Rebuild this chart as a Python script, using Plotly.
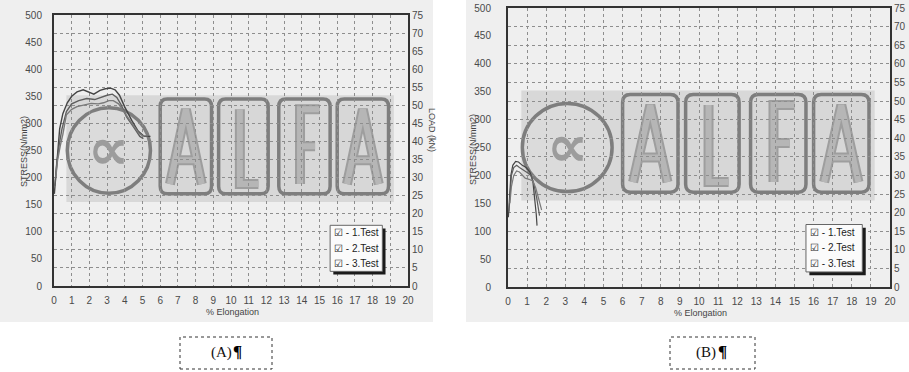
import plotly.graph_objects as go

# ---------------- data ----------------
x_ticks = list(range(0, 21))
stress_ticks = list(range(0, 501, 50))
load_ticks = list(range(0, 76, 5))
test_names = ["1.Test", "2.Test", "3.Test"]

# Chart (A)
a1_x = [0.02, 0.12, 0.22, 0.32, 0.5, 0.75, 1.0, 1.3, 1.65, 2.0, 2.25, 2.6, 2.9, 3.2, 3.45, 3.7, 4.0, 4.4, 4.75, 5.1, 5.45]
a1_y = [170, 215, 262, 290, 318, 338, 350, 358, 362, 358, 354, 361, 364, 365, 362, 352, 330, 305, 286, 276, 276]
a2_x = [0.05, 0.15, 0.3, 0.45, 0.7, 1.0, 1.4, 1.85, 2.3, 2.7, 3.0, 3.3, 3.55, 3.8, 4.1, 4.5, 4.85, 5.05]
a2_y = [185, 225, 262, 290, 322, 336, 342, 346, 344, 349, 352, 354, 348, 334, 312, 293, 276, 272]
a3_x = [0.1, 0.2, 0.35, 0.5, 0.7, 1.0, 1.3, 1.7, 2.1, 2.5, 2.8, 3.1, 3.35, 3.65, 4.0, 4.4, 4.8, 5.0, 5.3]
a3_y = [200, 232, 258, 280, 316, 326, 331, 334, 337, 336, 338, 342, 342, 336, 318, 300, 282, 277, 277]

# Chart (B)
b1_x = [0.02, 0.08, 0.15, 0.25, 0.4, 0.55, 0.75, 0.95, 1.15, 1.3, 1.4, 1.48, 1.52]
b1_y = [125, 165, 200, 218, 225, 224, 218, 214, 206, 190, 160, 130, 110]
b2_x = [0.05, 0.1, 0.18, 0.3, 0.45, 0.6, 0.8, 1.0, 1.2, 1.35, 1.5, 1.6, 1.65]
b2_y = [135, 170, 200, 214, 218, 214, 210, 205, 200, 185, 160, 140, 128]
b3_x = [0.1, 0.18, 0.3, 0.45, 0.6, 0.75, 0.9, 1.1, 1.3, 1.45, 1.6, 1.7, 1.76]
b3_y = [150, 180, 200, 208, 206, 200, 195, 193, 190, 178, 160, 145, 138]

# ---------------- helpers ----------------
W, H = 909, 372
def fx(p): return p / W
def fy(p): return 1 - p / H

LINE_COLORS = ["#454545", "#5e5e5e", "#7a7a7a"]
TICKFONT = dict(family="Liberation Sans, Arial", size=10, color="#4a4a4a")

fig = go.Figure()
for xs, ys, c, n in zip([a1_x, a2_x, a3_x], [a1_y, a2_y, a3_y], LINE_COLORS, test_names):
    fig.add_trace(go.Scatter(x=xs, y=ys, mode="lines", name=n, line=dict(color=c, width=1.4),
                             xaxis="x", yaxis="y", showlegend=False, hoverinfo="skip"))
for xs, ys, c, n in zip([b1_x, b2_x, b3_x], [b1_y, b2_y, b3_y], LINE_COLORS, test_names):
    fig.add_trace(go.Scatter(x=xs, y=ys, mode="lines", name=n, line=dict(color=c, width=1.2),
                             xaxis="x2", yaxis="y3", showlegend=False, hoverinfo="skip"))
# anchors for the right-hand load axes
fig.add_trace(go.Scatter(x=[0], y=[0], mode="none", xaxis="x", yaxis="y2", showlegend=False, hoverinfo="skip"))
fig.add_trace(go.Scatter(x=[0], y=[0], mode="none", xaxis="x2", yaxis="y4", showlegend=False, hoverinfo="skip"))

def xax(domain, anchor):
    return dict(domain=domain, anchor=anchor, range=[0, 20], tickvals=x_ticks, ticktext=[str(v) for v in x_ticks],
                showgrid=True, griddash="dot", gridcolor="#8e8e8e", gridwidth=1,
                showline=True, linewidth=2, linecolor="#333", mirror=True, ticks="",
                ticklabelstandoff=4, tickfont=TICKFONT, zeroline=False, fixedrange=True, automargin=False)

def yleft(domain, anchor, standoff):
    return dict(domain=domain, anchor=anchor, range=[0, 500], tickvals=stress_ticks,
                showgrid=False, showline=True, linewidth=2, linecolor="#333", mirror=True,
                ticks="", ticklabelstandoff=standoff, tickfont=TICKFONT, zeroline=False, fixedrange=True,
                automargin=False)

def yright(over, anchor):
    return dict(overlaying=over, anchor=anchor, side="right", range=[0, 75], tickvals=load_ticks,
                showgrid=True, griddash="dot", gridcolor="#8e8e8e", gridwidth=1, showline=False,
                ticks="", ticklabelstandoff=3, tickfont=TICKFONT, zeroline=False, fixedrange=True,
                automargin=False)

shapes = []
annotations = []

# scanned image backgrounds
shapes.append(dict(type="rect", xref="paper", yref="paper", x0=0, x1=fx(433), y0=fy(322), y1=1,
                   fillcolor="#efefef", line=dict(width=0), layer="below"))
shapes.append(dict(type="rect", xref="paper", yref="paper", x0=fx(466), x1=1, y0=fy(322), y1=1,
                   fillcolor="#efefef", line=dict(width=0), layer="below"))

def rrect(x0, x1, y0, y1, rx, ry):
    return (f"M {x0+rx},{y0} L {x1-rx},{y0} Q {x1},{y0} {x1},{y0+ry} L {x1},{y1-ry} "
            f"Q {x1},{y1} {x1-rx},{y1} L {x0+rx},{y1} Q {x0},{y1} {x0},{y1-ry} "
            f"L {x0},{y0+ry} Q {x0},{y0} {x0+rx},{y0} Z")

def letter_A(x0, x1, yb, yt):
    xc = (x0 + x1) / 2
    xl, xr = x0 + 0.55, x1 - 0.55
    ym = yb + (yt - yb) * 0.32
    t = (ym - yb) / (yt - yb)
    xa = xl + (xc - xl) * t
    xb = xr + (xc - xr) * t
    return f"M {xl},{yb} L {xc},{yt} L {xr},{yb} M {xa},{ym} L {xb},{ym}"

def add_logo(xr, yr):
    shapes.append(dict(type="rect", xref=xr, yref=yr, x0=0.7, x1=19.2, y0=155, y1=352,
                       fillcolor="rgba(175,175,175,0.35)", line=dict(width=0), layer="below"))
    shapes.append(dict(type="circle", xref=xr, yref=yr, x0=3.1 - 2.35, x1=3.1 + 2.35, y0=250 - 79, y1=250 + 79,
                       fillcolor="rgba(225,225,225,0.35)", line=dict(color="#7e7e7e", width=3.5), layer="below"))
    boxes = [(6.0, 8.9), (9.3, 12.1), (12.7, 15.6), (16.0, 18.9)]
    for bx0, bx1 in boxes:
        shapes.append(dict(type="path", xref=xr, yref=yr, path=rrect(bx0, bx1, 170, 345, 0.4, 14),
                           fillcolor="rgba(215,215,215,0.35)", line=dict(color="#7e7e7e", width=3.5), layer="below"))
    yb, yt = 188, 326
    paths = [
        letter_A(6.0, 8.9, yb, yt),
        f"M {9.3+1.2},{yt} L {9.3+1.2},{yb} L {12.1-0.55},{yb}",
        f"M {12.7+1.2},{yb} L {12.7+1.2},{yt} L {15.6-0.6},{yt} M {12.7+1.2},{258} L {15.6-0.85},{258}",
        letter_A(16.0, 18.9, yb, yt),
    ]
    for p in paths:
        shapes.append(dict(type="path", xref=xr, yref=yr, path=p,
                           line=dict(color="#9e9e9e", width=10), layer="below"))
        shapes.append(dict(type="path", xref=xr, yref=yr, path=p,
                           line=dict(color="#b6b6b6", width=6), layer="below"))
    annotations.append(dict(xref=xr, yref=yr, x=3.1, y=252, text="<b>∝</b>", showarrow=False,
                            xanchor="center", yanchor="middle",
                            font=dict(family="DejaVu Sans", size=58, color="#9c9c9c")))

def add_legend(xr, yr):
    shapes.append(dict(type="rect", xref=xr, yref=yr, x0=15.78, x1=18.73, y0=21, y1=106,
                       fillcolor="#1a1a1a", line=dict(width=0), layer="above"))
    shapes.append(dict(type="rect", xref=xr, yref=yr, x0=15.6, x1=18.55, y0=27, y1=112,
                       fillcolor="#fbfbfb", line=dict(color="#666", width=1), layer="above"))
    for i, n in enumerate(test_names):
        annotations.append(dict(xref=xr, yref=yr, x=15.72, y=98 - i * 28, xanchor="left", yanchor="middle",
                                text="☑ - " + n, showarrow=False,
                                font=dict(family="Liberation Sans, Arial", size=10, color="#222")))

add_logo("x", "y")
add_logo("x2", "y3")
add_legend("x", "y")
add_legend("x2", "y3")

# axis titles
TITLEFONT = dict(family="Liberation Sans, Arial", size=9, color="#444")
def pann(px, py, text, angle=0, font=TITLEFONT):
    return dict(xref="paper", yref="paper", x=fx(px), y=fy(py), text=text, textangle=angle,
                xanchor="center", yanchor="middle", showarrow=False, font=font)

annotations += [
    pann(24, 152, "STRESS(N/mm2)", -90),
    pann(473, 150, "STRESS(N/mm2)", -90),
    pann(432, 130, "LOAD (kN)", 90),
    pann(232, 312, "% Elongation"),
    pann(700, 313, "% Elongation"),
]

# caption boxes (A) and (B)
CAPFONT = dict(family="Liberation Serif, Times New Roman", size=15, color="#111")
PILFONT = dict(family="Liberation Serif, Times New Roman", size=17, color="#000")
for (bx0, bx1, lab, cx) in [(180, 272, "(A)", 221), (670, 755, "(B)", 706)]:
    shapes.append(dict(type="rect", xref="paper", yref="paper", x0=fx(bx0), x1=fx(bx1), y0=fy(369), y1=fy(337),
                       line=dict(color="#333", width=1, dash="dot"), fillcolor="rgba(0,0,0,0)"))
    annotations.append(pann(cx, 352, lab, 0, CAPFONT))
    annotations.append(pann(cx + 16, 351, "<b>¶</b>", 0, PILFONT))

fig.update_layout(
    width=W, height=H,
    autosize=False,
    margin=dict(l=0, r=0, t=0, b=0, pad=0, autoexpand=False),
    paper_bgcolor="#ffffff",
    plot_bgcolor="#f7f7f7",
    showlegend=False,
    xaxis=xax([fx(54), fx(408)], "y"),
    yaxis=yleft([fy(286), fy(15)], "x", 8),
    yaxis2=yright("y", "x"),
    xaxis2=xax([fx(508), fx(890)], "y3"),
    yaxis3=yleft([fy(287), fy(8)], "x2", 13),
    yaxis4=yright("y3", "x2"),
    shapes=shapes,
    annotations=annotations,
)

fig.write_html("out.html", config={"displayModeBar": False},
               post_script="document.body.style.margin='0';document.body.style.padding='0';"
                           "document.body.style.overflow='hidden';")
